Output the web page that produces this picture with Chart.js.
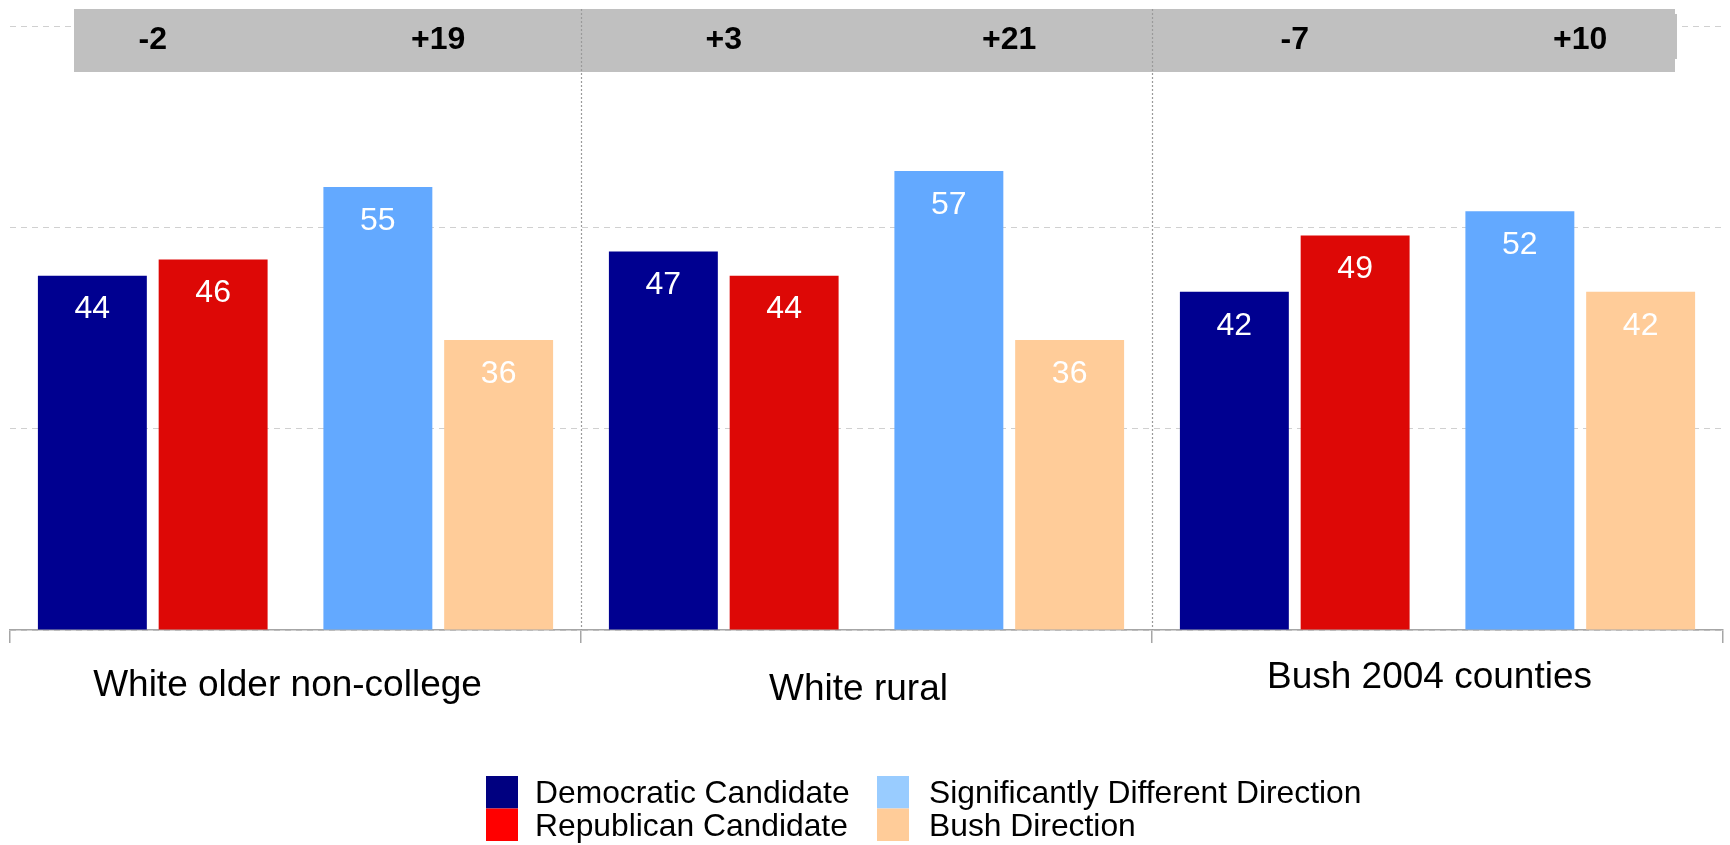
<!DOCTYPE html>
<html>
<head>
<meta charset="utf-8">
<script src="https://cdn.jsdelivr.net/npm/chart.js@4.4.0/dist/chart.umd.min.js"></script>
<style>
  html, body { margin: 0; padding: 0; background: #ffffff; }
  #c { display: block; }
</style>
</head>
<body>
<canvas id="c" width="1730" height="845"></canvas>
<script>
// ---------------- data ----------------
const categories = ['White older non-college', 'White rural', 'Bush 2004 counties'];
const seriesNames = ['Democratic Candidate', 'Republican Candidate', 'Significantly Different Direction', 'Bush Direction'];
const democratic = [44, 47, 42];
const republican = [46, 44, 49];
const differentDirection = [55, 57, 52];
const bushDirection = [36, 36, 42];
const candidateMargin = ['-2', '+3', '-7'];
const directionMargin = ['+19', '+21', '+10'];
const yTicks = [0, 25, 50, 75];

// ---------------- styles ----------------
const barColors = ['#000090', '#DD0806', '#63A9FF', '#FFCC99'];
const legendColors = ['#000080', '#FF0000', '#99CCFF', '#FFCC99'];
const FONT = "'Liberation Sans', Arial, sans-serif";

// each category is split in two half-slots: candidates pair, direction pair
const subLabels = [];
categories.forEach(c => { subLabels.push(c + ' (candidates)'); subLabels.push(c + ' (direction)'); });
const inFirstHalf = arr => arr.flatMap(v => [v, null]);
const inSecondHalf = arr => arr.flatMap(v => [null, v]);

const datasets = [
  { label: seriesNames[0], data: inFirstHalf(democratic), backgroundColor: barColors[0] },
  { label: seriesNames[1], data: inFirstHalf(republican), backgroundColor: barColors[1] },
  { label: seriesNames[2], data: inSecondHalf(differentDirection), backgroundColor: barColors[2] },
  { label: seriesNames[3], data: inSecondHalf(bushDirection), backgroundColor: barColors[3] }
].map(d => Object.assign(d, { xAxisID: 'xh', yAxisID: 'y', borderWidth: 0 }));

// ---------------- plugins ----------------
const bandPlugin = {
  id: 'band',
  beforeDatasetsDraw(chart) {
    const { ctx, chartArea: a } = chart;
    const xs = chart.scales.x, xh = chart.scales.xh;
    const top = a.top - 17, bottom = a.top + 46;
    ctx.save();
    ctx.fillStyle = '#C0C0C0';
    ctx.fillRect(a.left + 64, top, (a.right - 48) - (a.left + 64), bottom - top);
    ctx.fillRect(a.right - 50, top + 5, 4, 45);
    // dotted dividers between categories
    ctx.strokeStyle = '#9a9a9a';
    ctx.lineWidth = 1.2;
    ctx.setLineDash([2, 2]);
    for (let i = 1; i < categories.length; i++) {
      const x = Math.round((xs.getPixelForValue(i - 1) + xs.getPixelForValue(i)) / 2) + 0.5;
      ctx.beginPath();
      ctx.moveTo(x, top);
      ctx.lineTo(x, a.bottom);
      ctx.stroke();
    }
    ctx.setLineDash([]);
    // margins inside band
    ctx.fillStyle = '#000';
    ctx.font = 'bold 32px ' + FONT;
    ctx.textAlign = 'center';
    ctx.textBaseline = 'middle';
    categories.forEach((c, i) => {
      ctx.fillText(candidateMargin[i], xh.getPixelForValue(2 * i), a.top + 14);
      ctx.fillText(directionMargin[i], xh.getPixelForValue(2 * i + 1), a.top + 14);
    });
    ctx.restore();
  }
};

const valueLabelPlugin = {
  id: 'valueLabels',
  afterDatasetsDraw(chart) {
    const { ctx } = chart;
    ctx.save();
    ctx.fillStyle = '#ffffff';
    ctx.font = '32px ' + FONT;
    ctx.textAlign = 'center';
    ctx.textBaseline = 'middle';
    chart.data.datasets.forEach((ds, di) => {
      const meta = chart.getDatasetMeta(di);
      meta.data.forEach((el, j) => {
        const v = ds.data[j];
        if (v === null || v === undefined) return;
        ctx.fillText(String(v), el.x, el.y + 34);
      });
    });
    ctx.restore();
  }
};

const legendPlugin = {
  id: 'customLegend',
  afterDraw(chart) {
    const { ctx } = chart;
    const cols = [{ sw: 486, tx: 535 }, { sw: 877, tx: 929 }];
    const rowTop = 776, rowH = 32.5, sw = 32;
    const order = [[0, 1], [2, 3]];
    ctx.save();
    ctx.font = '31.8px ' + FONT;
    ctx.textAlign = 'left';
    ctx.textBaseline = 'middle';
    order.forEach((items, ci) => {
      items.forEach((si, ri) => {
        const y = rowTop + ri * rowH;
        ctx.fillStyle = legendColors[si];
        ctx.fillRect(cols[ci].sw, y, sw, rowH);
        ctx.fillStyle = '#000';
        ctx.fillText(seriesNames[si], cols[ci].tx, y + rowH / 2 + 2);
      });
    });
    ctx.restore();
  }
};

// ---------------- chart ----------------
const labelLineHeights = [42, 50, 26];

new Chart(document.getElementById('c'), {
  type: 'bar',
  data: { labels: subLabels, datasets },
  options: {
    responsive: false,
    animation: false,
    devicePixelRatio: 1,
    layout: { padding: { top: 26, left: 10, right: 7, bottom: 108 } },
    datasets: { bar: { skipNull: true, categoryPercentage: 0.846, barPercentage: 0.902 } },
    plugins: { legend: { display: false }, tooltip: { enabled: false } },
    scales: {
      x: {
        type: 'category',
        labels: categories,
        position: 'bottom',
        offset: true,
        grid: { offset: true, drawOnChartArea: false, drawTicks: true, tickLength: 13, color: '#a6a6a6', lineWidth: 1.5 },
        border: { display: true, color: '#a6a6a6', width: 1.5 },
        ticks: {
          color: '#000',
          padding: 22,
          labelOffset: -8,
          autoSkip: false,
          maxRotation: 0,
          font: (ctx) => ({ family: FONT, size: 37, lineHeight: (labelLineHeights[ctx.index] || 42) + 'px' })
        }
      },
      xh: { type: 'category', labels: subLabels, display: false, offset: true, position: 'bottom' },
      y: {
        min: yTicks[0],
        max: yTicks[yTicks.length - 1],
        display: true,
        afterBuildTicks: (s) => { s.ticks = yTicks.map(v => ({ value: v })); },
        ticks: { display: false },
        grid: { color: '#d0d0d0', drawTicks: false, lineWidth: 1 },
        border: { display: false, dash: [6, 5] }
      }
    }
  },
  plugins: [bandPlugin, valueLabelPlugin, legendPlugin]
});
</script>
</body>
</html>
